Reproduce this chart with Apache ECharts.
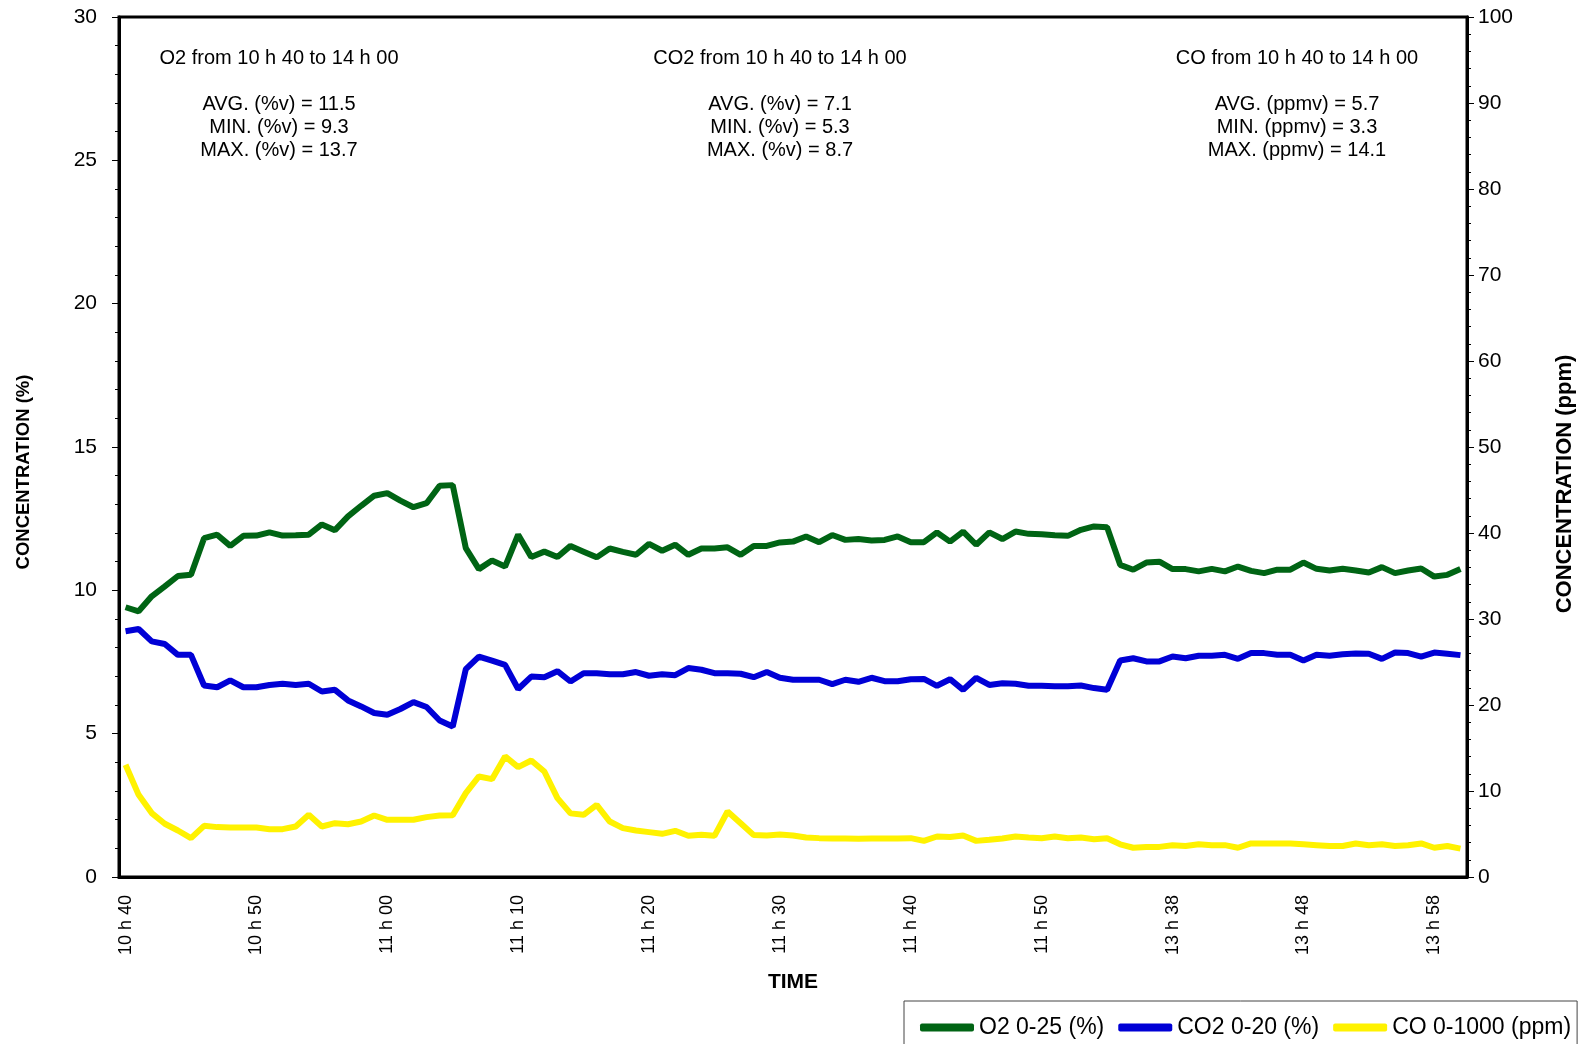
<!DOCTYPE html>
<html>
<head>
<meta charset="utf-8">
<title>Concentration</title>
<script src="https://cdn.jsdelivr.net/npm/echarts@6/dist/echarts.min.js"></script>
<style>
  html, body { margin: 0; padding: 0; background: #fff; }
  #chart { width: 1581px; height: 1044px; }
</style>
</head>
<body>
<div id="chart"></div>
<script>
// time labels: 10 h 40 -> 11 h 55, then 13 h 34 -> 14 h 00
function timeLabels(h1, m1, h2, m2) {
  var out = [];
  for (var t = h1 * 60 + m1; t <= h2 * 60 + m2; t++) {
    var h = Math.floor(t / 60), m = t % 60;
    out.push(h + ' h ' + (m < 10 ? '0' + m : m));
  }
  return out;
}
var times = timeLabels(10, 40, 11, 55).concat(timeLabels(13, 34, 14, 0));

// O2 (%), left axis
var o2 = [9.41, 9.27, 9.79, 10.14, 10.5, 10.54, 11.82, 11.94, 11.55, 11.9,
  11.91, 12.02, 11.91, 11.92, 11.94, 12.3, 12.1, 12.58, 12.95, 13.3,
  13.39, 13.13, 12.9, 13.04, 13.65, 13.67, 11.47, 10.74, 11.04, 10.83,
  11.94, 11.16, 11.35, 11.16, 11.55, 11.35, 11.15, 11.46, 11.34, 11.24,
  11.62, 11.38, 11.59, 11.24, 11.46, 11.46, 11.5, 11.24, 11.55, 11.55,
  11.67, 11.7, 11.88, 11.68, 11.93, 11.76, 11.79, 11.74, 11.76, 11.88,
  11.68, 11.68, 12.02, 11.7, 12.05, 11.59, 12.02, 11.79, 12.05, 11.97,
  11.96, 11.92, 11.9, 12.11, 12.23, 12.2, 10.89, 10.72, 10.97, 11.0,
  10.74, 10.74, 10.66, 10.75, 10.66, 10.83, 10.68, 10.6, 10.72, 10.72,
  10.97, 10.75, 10.69, 10.75, 10.69, 10.62, 10.81, 10.6, 10.69, 10.76,
  10.48, 10.54, 10.74];

// CO2 (%), left axis
var co2 = [8.57, 8.65, 8.22, 8.13, 7.75, 7.75, 6.68, 6.62, 6.86, 6.62,
  6.62, 6.7, 6.74, 6.7, 6.74, 6.47, 6.53, 6.16, 5.95, 5.72,
  5.66, 5.86, 6.1, 5.93, 5.46, 5.25, 7.25, 7.69, 7.55, 7.4,
  6.56, 6.99, 6.97, 7.18, 6.82, 7.11, 7.11, 7.07, 7.07, 7.15,
  7.02, 7.07, 7.04, 7.29, 7.23, 7.11, 7.11, 7.09, 6.97, 7.15,
  6.95, 6.88, 6.88, 6.88, 6.73, 6.88, 6.81, 6.95, 6.83, 6.83,
  6.9, 6.91, 6.67, 6.9, 6.53, 6.95, 6.7, 6.76, 6.74, 6.67,
  6.67, 6.65, 6.65, 6.68, 6.59, 6.53, 7.55, 7.63, 7.52, 7.52,
  7.69, 7.63, 7.72, 7.72, 7.75, 7.61, 7.81, 7.81, 7.75, 7.75,
  7.55, 7.75, 7.72, 7.77, 7.8, 7.79, 7.61, 7.83, 7.81, 7.69,
  7.83, 7.79, 7.74];

// CO (ppm), right axis
var co = [13.05, 9.55, 7.43, 6.19, 5.41, 4.52, 5.95, 5.8, 5.76, 5.76,
  5.76, 5.56, 5.56, 5.87, 7.23, 5.87, 6.26, 6.14, 6.45, 7.15,
  6.65, 6.65, 6.65, 6.96, 7.15, 7.19, 9.75, 11.69, 11.38, 14.02,
  12.78, 13.55, 12.27, 9.17, 7.4, 7.23, 8.39, 6.45, 5.68, 5.41,
  5.22, 5.02, 5.37, 4.79, 4.91, 4.79, 7.62, 6.26, 4.87, 4.83,
  4.94, 4.83, 4.6, 4.52, 4.48, 4.48, 4.44, 4.48, 4.48, 4.48,
  4.52, 4.2, 4.71, 4.64, 4.83, 4.2, 4.32, 4.48, 4.71, 4.6,
  4.5, 4.7, 4.5, 4.6, 4.4, 4.5, 3.8, 3.4, 3.5, 3.5,
  3.7, 3.6, 3.8, 3.7, 3.7, 3.4, 3.9, 3.9, 3.9, 3.9,
  3.8, 3.7, 3.6, 3.6, 3.9, 3.7, 3.8, 3.6, 3.7, 3.9,
  3.4, 3.6, 3.3];

var seriesNames = ['O2 0-25 (%)', 'CO2 0-20 (%)', 'CO 0-1000 (ppm)'];
var notes = [
  'O2 from 10 h 40 to 14 h 00\n\nAVG. (%v) = 11.5\nMIN. (%v) = 9.3\nMAX. (%v) = 13.7',
  'CO2 from 10 h 40 to 14 h 00\n\nAVG. (%v) = 7.1\nMIN. (%v) = 5.3\nMAX. (%v) = 8.7',
  'CO from 10 h 40 to 14 h 00\n\nAVG. (ppmv) = 5.7\nMIN. (ppmv) = 3.3\nMAX. (ppmv) = 14.1'
];

var font = "'Liberation Sans', Arial, sans-serif";
var chart = echarts.init(document.getElementById('chart'));

// shift = how far the rotated axis title sits below the grid middle
function valueAxis(max, step, name, pos, gap, margin, nameSize, shift) {
  return {
    type: 'value',
    position: pos,
    min: 0,
    max: max,
    interval: step,
    name: name,
    nameLocation: 'middle',
    nameRotate: 90,
    nameGap: gap,
    nameTextStyle: {
      fontFamily: font, fontWeight: 'bold', fontSize: nameSize, color: '#000',
      padding: [0, shift * 2, 0, 0]
    },
    axisLine: { show: true, lineStyle: { color: '#000', width: 3 } },
    axisTick: { show: true, length: 7, lineStyle: { color: '#000', width: 1 } },
    minorTick: { show: true, splitNumber: 5, length: 4, lineStyle: { color: '#000', width: 1 } },
    splitLine: { show: false },
    axisLabel: { fontFamily: font, fontSize: 21, color: '#000', margin: margin }
  };
}

var option = {
  backgroundColor: '#fff',
  animation: false,
  grid: {
    left: 119,
    right: 114,
    top: 17,
    bottom: 167,
    outerBoundsMode: 'none',
    show: true,
    borderColor: '#000',
    borderWidth: 3,
    backgroundColor: '#fff'
  },
  legend: {
    left: 904,
    top: 1001,
    width: 690,
    data: seriesNames,
    icon: 'roundRect',
    itemWidth: 54,
    itemHeight: 8,
    itemGap: 14,
    padding: [15, 6, 12, 16],
    borderColor: '#444',
    borderWidth: 1,
    backgroundColor: '#fff',
    textStyle: { fontFamily: font, fontSize: 23, color: '#000' }
  },
  xAxis: {
    type: 'category',
    data: times,
    boundaryGap: true,
    name: 'TIME',
    nameLocation: 'middle',
    nameGap: 95,
    nameTextStyle: { fontFamily: font, fontWeight: 'bold', fontSize: 21, color: '#000' },
    axisLine: { lineStyle: { color: '#000', width: 3 } },
    axisTick: { alignWithLabel: true, interval: 4, length: 6, lineStyle: { color: '#000', width: 1 } },
    axisLabel: { interval: 9, rotate: 90, fontFamily: font, fontSize: 18, color: '#000', margin: 18 },
    splitLine: { show: false }
  },
  yAxis: [
    valueAxis(30, 5, 'CONCENTRATION (%)', 'left', 86, 22, 18.5, 25),
    valueAxis(100, 10, 'CONCENTRATION (ppm)', 'right', 87, 11, 22, 37)
  ],
  graphic: [
    { type: 'text', x: 279, y: 47, style: { text: notes[0], fontFamily: font, fontSize: 20, lineHeight: 23, fill: '#000', textAlign: 'center', textVerticalAlign: 'top' } },
    { type: 'text', x: 780, y: 47, style: { text: notes[1], fontFamily: font, fontSize: 20, lineHeight: 23, fill: '#000', textAlign: 'center', textVerticalAlign: 'top' } },
    { type: 'text', x: 1297, y: 47, style: { text: notes[2], fontFamily: font, fontSize: 20, lineHeight: 23, fill: '#000', textAlign: 'center', textVerticalAlign: 'top' } }
  ],
  series: [
    {
      name: seriesNames[0],
      type: 'line',
      data: o2,
      symbol: 'none',
      color: '#006414',
      lineStyle: { width: 6, color: '#006414' }
    },
    {
      name: seriesNames[1],
      type: 'line',
      data: co2,
      symbol: 'none',
      color: '#0000d6',
      lineStyle: { width: 6, color: '#0000d6' }
    },
    {
      name: seriesNames[2],
      type: 'line',
      yAxisIndex: 1,
      data: co,
      symbol: 'none',
      color: '#fff200',
      lineStyle: { width: 6, color: '#fff200' }
    }
  ]
};

chart.setOption(option);
</script>
</body>
</html>
